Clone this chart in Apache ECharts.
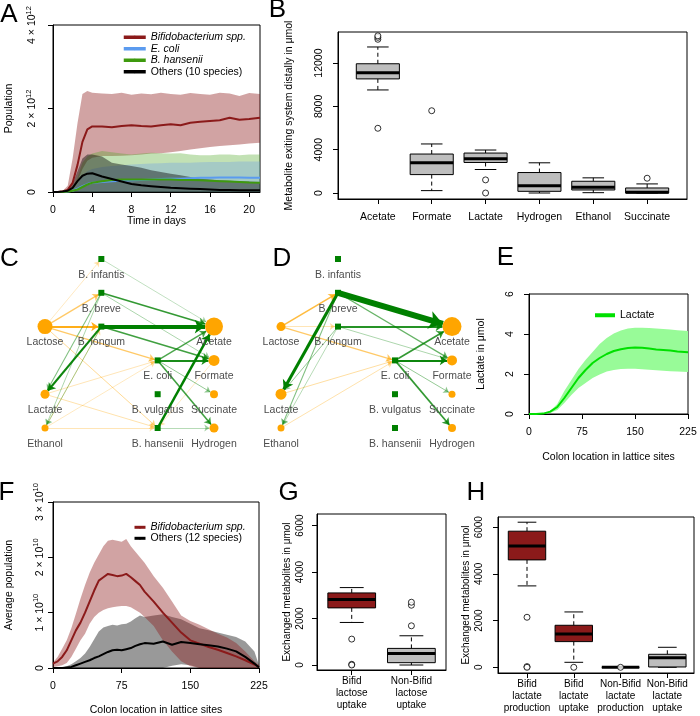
<!DOCTYPE html>
<html><head><meta charset="utf-8">
<script src="https://cdn.jsdelivr.net/npm/echarts@6/dist/echarts.min.js"></script>
<style>html,body{margin:0;padding:0;background:#fff}#c{width:700px;height:716px}</style>
</head><body><div id="c"></div>
<script>
// ================= DATA =================
// Panel A (population in units of 10^12, time in days)
const daysA       = [0, 0.5, 1, 1.5, 2, 2.5, 3, 3.5, 4, 5, 6, 7, 8, 9, 10, 11, 12, 13, 14, 15, 16, 17, 18, 19, 20, 21.1];
const bifidMeanA  = [0, 0, 0.02, 0.05, 0.22, 0.65, 1.2, 1.5, 1.57, 1.57, 1.55, 1.58, 1.6, 1.58, 1.57, 1.6, 1.62, 1.6, 1.66, 1.68, 1.7, 1.72, 1.78, 1.73, 1.75, 1.78];
const bifidHiA    = [0, 0, 0.03, 0.15, 0.8, 1.65, 2.35, 2.42, 2.38, 2.36, 2.35, 2.38, 2.33, 2.36, 2.34, 2.38, 2.35, 2.33, 2.37, 2.35, 2.33, 2.38, 2.36, 2.3, 2.37, 2.35];
const bifidLoA    = [0, 0, 0, 0.02, 0.08, 0.25, 0.55, 0.75, 0.82, 0.86, 0.86, 0.87, 0.88, 0.9, 0.92, 0.93, 0.95, 0.98, 1.02, 1.05, 1.08, 1.1, 1.12, 1.14, 1.16, 1.18];
const ecoliMeanA  = [0, 0, 0, 0.01, 0.03, 0.08, 0.14, 0.19, 0.22, 0.24, 0.26, 0.27, 0.28, 0.29, 0.3, 0.31, 0.32, 0.32, 0.33, 0.34, 0.34, 0.35, 0.35, 0.35, 0.34, 0.34];
const ecoliHiA    = [0, 0, 0, 0.02, 0.06, 0.2, 0.4, 0.5, 0.55, 0.6, 0.62, 0.64, 0.66, 0.67, 0.68, 0.69, 0.7, 0.7, 0.7, 0.71, 0.72, 0.72, 0.72, 0.73, 0.73, 0.73];
const ecoliLoA    = [0, 0, 0, 0, 0, 0, 0, 0, 0, 0, 0, 0, 0, 0, 0, 0, 0, 0, 0, 0, 0, 0, 0, 0, 0, 0];
const hansMeanA   = [0, 0, 0, 0.01, 0.03, 0.06, 0.12, 0.18, 0.22, 0.26, 0.29, 0.3, 0.3, 0.3, 0.3, 0.3, 0.3, 0.29, 0.29, 0.28, 0.27, 0.26, 0.25, 0.24, 0.23, 0.22];
const hansHiA     = [0, 0, 0, 0.02, 0.1, 0.35, 0.7, 0.85, 0.92, 0.98, 0.95, 0.92, 0.9, 0.92, 0.94, 0.93, 0.92, 0.93, 0.9, 0.88, 0.88, 0.9, 0.9, 0.88, 0.9, 0.9];
const hansLoA     = [0, 0, 0, 0, 0, 0, 0, 0, 0, 0, 0, 0, 0, 0, 0, 0, 0, 0, 0, 0, 0, 0, 0, 0, 0, 0];
const othMeanA    = [0, 0, 0.01, 0.03, 0.1, 0.26, 0.39, 0.44, 0.45, 0.37, 0.31, 0.25, 0.19, 0.16, 0.14, 0.12, 0.1, 0.09, 0.08, 0.07, 0.06, 0.05, 0.05, 0.04, 0.04, 0.04];
const othHiA      = [0, 0, 0.01, 0.05, 0.2, 0.5, 0.8, 0.9, 0.9, 0.85, 0.7, 0.66, 0.62, 0.58, 0.52, 0.48, 0.44, 0.4, 0.36, 0.32, 0.3, 0.28, 0.27, 0.26, 0.25, 0.24];
const othLoA      = [0, 0, 0, 0, 0, 0, 0, 0, 0, 0, 0, 0, 0, 0, 0, 0, 0, 0, 0, 0, 0, 0, 0, 0, 0, 0];
const xTicksA = [0, 4, 8, 12, 16, 20];
const yTicksA = [0, 2, 4];
const yLabelsA = ['0', '2 × 10^12', '4 × 10^12'];
const legendA = ['Bifidobacterium spp.', 'E. coli', 'B. hansenii', 'Others (10 species)'];

// Panel B (box statistics: low whisker, Q1, median, Q3, high whisker)
const catsB = ['Acetate', 'Formate', 'Lactate', 'Hydrogen', 'Ethanol', 'Succinate'];
const statsB = [
  [9520, 10540, 11100, 11940, 13490],
  [220, 1700, 2790, 3600, 4530],
  [2170, 2820, 3160, 3690, 3970],
  [0, 155, 680, 1890, 2790],
  [30, 280, 530, 1085, 1400],
  [0, 0, 60, 465, 840]
];
const outCatB = [1, 1, 1, 1, 2, 3, 3, 6];
const outValB = [5980, 14200, 14380, 14520, 7600, 1210, 0, 1365];
const yTicksB = [0, 4000, 8000, 12000];

// Panels C and D (metabolic network)
const netNodes = ['Lactose', 'Lactate', 'Ethanol', 'B. infantis', 'B. breve', 'B. longum', 'E. coli', 'B. vulgatus', 'B. hansenii', 'Acetate', 'Formate', 'Succinate', 'Hydrogen'];
const netCol   = [0, 0, 0, 1, 1, 1, 2, 2, 2, 3, 3, 3, 3];
const netRow   = [2, 4, 5, 0, 1, 2, 3, 4, 5, 2, 3, 4, 5];
const netKind  = ['m', 'm', 'm', 's', 's', 's', 's', 's', 's', 'm', 'm', 'm', 'm'];
const amountC  = [11, 5, 3, 0, 0, 0, 0, 0, 0, 14, 7, 4, 5];
const amountD  = [5, 7, 3, 0, 0, 0, 0, 0, 0, 15, 6, 3, 4];
const fluxC = [
  ['Lactose', 'B. infantis', 0.2], ['Lactose', 'B. breve', 1.2], ['Lactose', 'B. longum', 2.4],
  ['Lactose', 'E. coli', 1.2], ['Lactose', 'B. hansenii', 0.6], ['Lactate', 'E. coli', 0.3],
  ['Lactate', 'B. hansenii', 0.4], ['Ethanol', 'E. coli', 0.2], ['Ethanol', 'B. hansenii', 0.3],
  ['Ethanol', 'B. longum', 0.3], ['Formate', 'B. hansenii', 0.2],
  ['B. infantis', 'Acetate', 0.2], ['B. breve', 'Acetate', 2], ['B. breve', 'Formate', 0.4],
  ['B. breve', 'Lactate', 0.8], ['B. breve', 'Ethanol', 0.4], ['B. longum', 'Acetate', 6],
  ['B. longum', 'Formate', 1.8], ['B. longum', 'Lactate', 2.6], ['B. longum', 'Ethanol', 0.4],
  ['E. coli', 'Acetate', 1.6], ['E. coli', 'Formate', 2.4], ['E. coli', 'Succinate', 0.6],
  ['E. coli', 'Hydrogen', 1.8], ['B. hansenii', 'Acetate', 3.5], ['B. hansenii', 'Hydrogen', 0.3]
];
const fluxD = [
  ['Lactose', 'B. breve', 1.8], ['Lactose', 'B. longum', 0.3], ['Lactose', 'E. coli', 1.2],
  ['Lactate', 'E. coli', 0.5], ['Ethanol', 'E. coli', 0.4],
  ['B. breve', 'Acetate', 10], ['B. breve', 'Lactate', 4.5], ['B. breve', 'Formate', 1.2],
  ['B. breve', 'Ethanol', 0.8], ['B. longum', 'Acetate', 2.2], ['B. longum', 'Formate', 0.4],
  ['B. longum', 'Lactate', 0.6], ['B. longum', 'Ethanol', 0.3],
  ['E. coli', 'Acetate', 2], ['E. coli', 'Formate', 2.6], ['E. coli', 'Succinate', 0.6], ['E. coli', 'Hydrogen', 2]
];

// Panel E (lactate in umol vs colon location)
const xE      = [0, 10, 20, 30, 40, 50, 60, 70, 80, 90, 100, 110, 120, 130, 140, 150, 160, 170, 180, 190, 200, 210, 225];
const lactMean = [0, 0, 0.02, 0.12, 0.35, 0.8, 1.3, 1.8, 2.2, 2.55, 2.8, 3.0, 3.15, 3.24, 3.3, 3.32, 3.31, 3.27, 3.23, 3.2, 3.17, 3.13, 3.09];
const lactHi   = [0, 0, 0.03, 0.15, 0.5, 1.15, 1.7, 2.25, 2.7, 3.1, 3.5, 3.8, 4.02, 4.17, 4.27, 4.31, 4.31, 4.3, 4.28, 4.25, 4.22, 4.19, 4.15];
const lactLo   = [0, 0, 0.01, 0.05, 0.2, 0.55, 0.95, 1.3, 1.55, 1.8, 1.98, 2.12, 2.2, 2.25, 2.26, 2.26, 2.24, 2.21, 2.19, 2.16, 2.14, 2.12, 2.1];
const xTicksE = [0, 75, 150, 225];
const yTicksE = [0, 2, 4, 6];

// Panel F (average population in units of 10^10)
const xF         = [0, 5, 10, 15, 20, 25, 30, 35, 40, 45, 50, 55, 60, 65, 70, 75, 80, 85, 90, 95, 100, 110, 120, 130, 140, 150, 160, 170, 180, 190, 200, 210, 220, 225];
const bifidMeanF = [0.08, 0.12, 0.2, 0.32, 0.5, 0.68, 0.82, 1.0, 1.2, 1.4, 1.58, 1.64, 1.7, 1.68, 1.66, 1.67, 1.7, 1.64, 1.57, 1.5, 1.38, 1.2, 1.0, 0.82, 0.64, 0.5, 0.44, 0.38, 0.33, 0.27, 0.21, 0.14, 0.06, 0.02];
const bifidHiF   = [0.1, 0.2, 0.35, 0.5, 0.72, 0.98, 1.25, 1.5, 1.72, 1.9, 2.05, 2.2, 2.3, 2.32, 2.3, 2.28, 2.33, 2.2, 2.1, 2.0, 1.9, 1.66, 1.45, 1.2, 0.95, 0.85, 0.78, 0.7, 0.62, 0.55, 0.45, 0.3, 0.12, 0.05];
const bifidLoF   = [0.02, 0.03, 0.05, 0.09, 0.2, 0.35, 0.5, 0.62, 0.8, 0.92, 1.0, 1.05, 1.08, 1.1, 1.11, 1.12, 1.12, 1.1, 1.05, 1.0, 0.92, 0.76, 0.5, 0.3, 0.12, 0.03, 0, 0, 0, 0, 0, 0, 0, 0];
const othMeanF   = [0, 0, 0, 0.01, 0.02, 0.05, 0.08, 0.11, 0.14, 0.18, 0.21, 0.25, 0.29, 0.32, 0.33, 0.32, 0.34, 0.36, 0.4, 0.43, 0.45, 0.44, 0.48, 0.42, 0.47, 0.45, 0.43, 0.41, 0.39, 0.35, 0.3, 0.2, 0.08, 0.01];
const othHiF     = [0, 0, 0.01, 0.03, 0.07, 0.12, 0.18, 0.26, 0.38, 0.52, 0.66, 0.73, 0.76, 0.78, 0.77, 0.79, 0.8, 0.84, 0.9, 0.95, 0.92, 0.95, 0.97, 0.92, 0.88, 0.8, 0.72, 0.68, 0.64, 0.6, 0.56, 0.48, 0.3, 0.05];
const othLoF     = [0, 0, 0, 0, 0, 0, 0, 0, 0, 0, 0, 0, 0, 0, 0, 0, 0, 0, 0, 0, 0, 0, 0, 0.04, 0.07, 0.05, 0, 0, 0, 0, 0, 0, 0, 0];
const xTicksF = [0, 75, 150, 225];
const yTicksF = [0, 1, 2, 3];
const yLabelsF = ['0', '1 × 10^10', '2 × 10^10', '3 × 10^10'];
const legendF = ['Bifidobacterium spp.', 'Others (12 species)'];

// Panel G
const catsG = ['Bifid\nlactose\nuptake', 'Non-Bifid\nlactose\nuptake'];
const statsG = [[1830, 2457, 2814, 3100, 3330], [0, 100, 500, 714, 1257]];
const outCatG = [1, 1, 1, 2, 2, 2];
const outValG = [1114, 30, 0, 1686, 2571, 2700];
// Panel H
const catsH = ['Bifid\nlactate\nproduction', 'Bifid\nlactate\nuptake', 'Non-Bifid\nlactate\nproduction', 'Non-Bifid\nlactate\nuptake'];
const statsH = [[3486, 4600, 5200, 5829, 6214], [214, 1100, 1429, 1800, 2371], [0, 0, 0, 0, 0], [0, 14, 414, 557, 857]];
const groupH = ['bifid', 'bifid', 'other', 'other'];
const outCatH = [1, 1, 1, 2, 3];
const outValH = [2143, 30, 0, 0, 0];
const yTicksGH = [0, 2000, 4000, 6000];

// ================= STYLE / HELPERS =================
const FONT = "'Liberation Sans', Arial, Helvetica, sans-serif";
const RED = '#8B1A1A', GREY = '#BEBEBE', ORANGE = '#FFA500', NETGREEN = '#008000';

function sci(s) {
  const k = s.indexOf('^');
  if (k < 0) return '{m|' + s + '}';
  return '{m|' + s.slice(0, k) + '}{s|' + s.slice(k + 1) + '}';
}
const richSci = {
  m: { fontSize: 10.5, fontFamily: FONT, color: '#000', lineHeight: 16 },
  s: { fontSize: 7.5, fontFamily: FONT, color: '#000', lineHeight: 9, verticalAlign: 'top' }
};

function grid(l, t, w, h, show) {
  return { left: l, top: t, width: w, height: h, show: show !== false, borderColor: '#000', borderWidth: 1,
    backgroundColor: 'transparent', containLabel: false, outerBoundsMode: 'none' };
}
function axisBase(gi, min, max, ticks, fmt, o) {
  return {
    type: 'value', gridIndex: gi, min: min, max: max,
    splitLine: { show: false },
    axisLine: { show: true, onZero: false, lineStyle: { color: '#000', width: 1 } },
    axisTick: { show: true, inside: false, length: 5, customValues: ticks, lineStyle: { color: '#000', width: 1 } },
    axisLabel: { show: true, customValues: ticks, formatter: fmt, margin: o.margin, fontSize: o.fs || 10.5,
      fontFamily: FONT, color: '#000', lineHeight: o.lh, rich: o.rich, rotate: o.rotate || 0 },
    name: o.name || '', nameLocation: 'middle', nameGap: o.nameGap || 20, nameRotate: o.nameRotate,
    nameTextStyle: { fontSize: o.nfs || 10.5, fontFamily: FONT, color: '#000' },
    nameMoveOverlap: false
  };
}
function hiddenAxis(gi, min, max, inverse) {
  return { type: 'value', gridIndex: gi, min: min, max: max, inverse: !!inverse, show: false,
    splitLine: { show: false }, axisLine: { show: false }, axisTick: { show: false }, axisLabel: { show: false } };
}
function pick(ticks, labels) { return v => { const i = ticks.indexOf(v); return i < 0 ? '' : labels[i]; }; }

function band(gi, xs, lo, hi, color) {
  return {
    type: 'custom', xAxisIndex: gi, yAxisIndex: gi, silent: true, clip: true, z: 1,
    data: [[xs[0], lo[0]]],
    renderItem: function (params, api) {
      const pts = [];
      for (let i = 0; i < xs.length; i++) pts.push(api.coord([xs[i], hi[i]]));
      for (let i = xs.length - 1; i >= 0; i--) pts.push(api.coord([xs[i], lo[i]]));
      return { type: 'polygon', shape: { points: pts }, style: { fill: color } };
    }
  };
}
function line(gi, name, xs, ys, color, w) {
  return { type: 'line', name: name, xAxisIndex: gi, yAxisIndex: gi, data: xs.map((x, i) => [x, ys[i]]),
    symbol: 'none', showSymbol: false, lineStyle: { color: color, width: w || 2 }, itemStyle: { color: color },
    z: 2, silent: true, clip: true };
}
function boxes(gi, stats, fills) {
  return {
    type: 'custom', xAxisIndex: gi, yAxisIndex: gi, silent: true, z: 3,
    data: stats.map((s, i) => [i + 1].concat(s)),
    encode: { x: 0, y: [1, 2, 3, 4, 5] },
    renderItem: function (params, api) {
      const x = api.value(0);
      const lo = api.coord([x, api.value(1)]), q1 = api.coord([x, api.value(2)]), md = api.coord([x, api.value(3)]),
            q3 = api.coord([x, api.value(4)]), hi = api.coord([x, api.value(5)]);
      const bw = api.size([0.8, 0])[0];
      const cx = md[0];
      const dash = { stroke: '#000', lineWidth: 1, lineDash: [4, 3] };
      const solid = { stroke: '#000', lineWidth: 1 };
      return { type: 'group', children: [
        { type: 'line', shape: { x1: cx, y1: q3[1], x2: cx, y2: hi[1] }, style: dash },
        { type: 'line', shape: { x1: cx, y1: q1[1], x2: cx, y2: lo[1] }, style: dash },
        { type: 'line', shape: { x1: cx - bw / 4, y1: hi[1], x2: cx + bw / 4, y2: hi[1] }, style: solid },
        { type: 'line', shape: { x1: cx - bw / 4, y1: lo[1], x2: cx + bw / 4, y2: lo[1] }, style: solid },
        { type: 'rect', shape: { x: cx - bw / 2, y: q3[1], width: bw, height: q1[1] - q3[1] },
          style: { fill: fills[params.dataIndex], stroke: '#000', lineWidth: 1 } },
        { type: 'line', shape: { x1: cx - bw / 2, y1: md[1], x2: cx + bw / 2, y2: md[1] }, style: { stroke: '#000', lineWidth: 3 } }
      ] };
    }
  };
}
function outliers(gi, cats, vals) {
  return { type: 'scatter', xAxisIndex: gi, yAxisIndex: gi, silent: true, z: 4, symbol: 'circle', symbolSize: 6,
    itemStyle: { color: '#fff', borderColor: '#000', borderWidth: 1 }, data: cats.map((c, i) => [c, vals[i]]) };
}
function network(gi, amounts, flux) {
  const nodes = netNodes.map((n, i) => ({
    name: n, value: [netCol[i], netRow[i]],
    symbol: netKind[i] === 's' ? 'rect' : 'circle',
    symbolSize: netKind[i] === 's' ? 6 : 4 + amounts[i],
    itemStyle: { color: netKind[i] === 's' ? NETGREEN : ORANGE }
  }));
  const links = flux.map(e => {
    const f = e[2];
    const w = 0.6 + 0.55 * f;
    const fromSpecies = netKind[netNodes.indexOf(e[0])] === 's';
    return { source: e[0], target: e[1], symbol: ['none', 'arrow'], symbolSize: [0, 4 + 1.6 * w],
      lineStyle: { width: w, color: fromSpecies ? NETGREEN : ORANGE, opacity: Math.min(1, 0.3 + 0.25 * f), curveness: 0 } };
  });
  return { type: 'graph', coordinateSystem: 'cartesian2d', xAxisIndex: gi, yAxisIndex: gi, layout: 'none',
    data: nodes, links: links, edgeSymbol: ['none', 'arrow'], edgeSymbolSize: 6, silent: true, roam: false, z: 3,
    label: { show: true, position: 'inside', offset: [0, 16], fontSize: 10.5, fontFamily: FONT, color: '#4D4D4D' },
    emphasis: { disabled: true } };
}
const italicA = ['Bifidobacterium spp.', 'E. coli', 'B. hansenii'];
function legendFmt(n) { return italicA.indexOf(n) >= 0 ? '{i|' + n + '}' : '{n|' + n + '}'; }
const legendRich = { i: { fontStyle: 'italic', fontSize: 10.5, fontFamily: FONT, color: '#000' },
                     n: { fontSize: 10.5, fontFamily: FONT, color: '#000' } };
function legend(names, left, top, itemW, lh, lw) {
  return { data: names, left: left, top: top, orient: 'vertical', align: 'left', padding: 0, itemGap: 0,
    itemWidth: itemW, itemHeight: lw, selectedMode: false, formatter: legendFmt,
    lineStyle: { width: lw }, textStyle: { fontSize: 10.5, fontFamily: FONT, lineHeight: lh, rich: legendRich } };
}
function letter(t, x, y) {
  return { type: 'text', x: x, y: y, style: { text: t, font: '26px ' + FONT, fill: '#000', align: 'center', verticalAlign: 'middle' } };
}

// ================= OPTION =================
const option = {
  animation: false,
  backgroundColor: '#fff',
  textStyle: { fontFamily: FONT },
  grid: [
    grid(53, 25, 207, 167),          // 0 A
    grid(338, 32, 349, 167),         // 1 B
    grid(45, 259, 169, 169, false),  // 2 C
    grid(281, 259, 171, 169, false), // 3 D
    grid(529, 294, 159, 120),        // 4 E
    grid(53, 502, 206, 166),         // 5 F
    grid(317, 514, 129, 156),        // 6 G
    grid(498, 517, 196, 156)         // 7 H
  ],
  xAxis: [
    axisBase(0, 0, 21.1, xTicksA, v => String(v), { margin: 13, name: 'Time in days', nameGap: 24 }),
    axisBase(1, 0.26, 6.74, [1, 2, 3, 4, 5, 6], v => catsB[v - 1] || '', { margin: 13 }),
    hiddenAxis(2, 0, 3),
    hiddenAxis(3, 0, 3),
    axisBase(4, 0, 225, xTicksE, v => String(v), { margin: 13, name: 'Colon location in lattice sites', nameGap: 38 }),
    axisBase(5, 0, 225, xTicksF, v => String(v), { margin: 13, name: 'Colon location in lattice sites', nameGap: 37 }),
    axisBase(6, 0.418, 2.58, [1, 2], v => catsG[v - 1] || '', { margin: 5.5, fs: 10, lh: 12 }),
    axisBase(7, 0.38, 4.57, [1, 2, 3, 4], v => catsH[v - 1] || '', { margin: 5.5, fs: 10, lh: 12 })
  ],
  yAxis: [
    axisBase(0, 0, 4, yTicksA, v => sci(pick(yTicksA, yLabelsA)(v)), { margin: 12.5, rotate: 90, rich: richSci,
      name: 'Population', nameGap: 38, nameRotate: 90 }),
    axisBase(1, -554, 14873, yTicksB, v => String(v), { margin: 13.5, rotate: 90,
      name: 'Metabolite exiting system distally in μmol', nameGap: 43, nameRotate: 90 }),
    hiddenAxis(2, 0, 5, true),
    hiddenAxis(3, 0, 5, true),
    axisBase(4, 0, 6, yTicksE, v => String(v), { margin: 13.5, rotate: 90, name: 'Lactate in μmol', nameGap: 42, nameRotate: 90 }),
    axisBase(5, 0, 3, yTicksF, v => sci(pick(yTicksF, yLabelsF)(v)), { margin: 5, rotate: 90, rich: richSci,
      name: 'Average population', nameGap: 38, nameRotate: 90 }),
    axisBase(6, -215, 6495, yTicksGH, v => String(v), { margin: 12, rotate: 90, fs: 10,
      name: 'Exchanged metabolites in μmol', nameGap: 25, nameRotate: 90, nfs: 10 }),
    axisBase(7, -244, 6437, yTicksGH, v => String(v), { margin: 14, rotate: 90, fs: 10,
      name: 'Exchanged metabolites in μmol', nameGap: 26.5, nameRotate: 90, nfs: 10 })
  ],
  legend: [
    legend(legendA, 122, 31.5, 22, 11.5, 3.5),
    legend(['Lactate'], 593, 309.5, 20, 11.5, 4),
    legend(legendF, 133, 521.8, 11, 11, 3)
  ],
  graphic: [
    letter('A', 9, 14.5), letter('B', 277.5, 10), letter('C', 9.5, 258.5), letter('D', 282, 259),
    letter('E', 505.5, 257.5), letter('F', 6.5, 492.5), letter('G', 288.5, 492.5), letter('H', 476, 492.5)
  ],
  series: [
    // A
    band(0, daysA, bifidLoA, bifidHiA, 'rgba(139,26,26,0.4)'),
    band(0, daysA, hansLoA, hansHiA, 'rgba(80,170,40,0.35)'),
    band(0, daysA, ecoliLoA, ecoliHiA, 'rgba(100,150,240,0.3)'),
    band(0, daysA, othLoA, othHiA, 'rgba(0,0,0,0.42)'),
    line(0, 'Bifidobacterium spp.', daysA, bifidMeanA, RED, 2),
    line(0, 'E. coli', daysA, ecoliMeanA, '#5B9BEF', 2),
    line(0, 'B. hansenii', daysA, hansMeanA, '#3E9A0E', 2),
    line(0, 'Others (10 species)', daysA, othMeanA, '#000', 2),
    // B
    boxes(1, statsB, statsB.map(() => GREY)),
    outliers(1, outCatB, outValB),
    // C, D
    network(2, amountC, fluxC),
    network(3, amountD, fluxD),
    // E
    band(4, xE, lactLo, lactHi, '#98FB98'),
    line(4, 'Lactate', xE, lactMean, '#00E000', 2),
    // F
    band(5, xF, othLoF, othHiF, 'rgba(0,0,0,0.4)'),
    band(5, xF, bifidLoF, bifidHiF, 'rgba(139,26,26,0.4)'),
    line(5, 'Bifidobacterium spp.', xF, bifidMeanF, RED, 2),
    line(5, 'Others (12 species)', xF, othMeanF, '#000', 2),
    // G
    boxes(6, statsG, [RED, GREY]),
    outliers(6, outCatG, outValG),
    // H
    boxes(7, statsH, groupH.map(g => g === 'bifid' ? RED : GREY)),
    outliers(7, outCatH, outValH)
  ]
};

const chart = echarts.init(document.getElementById('c'), null, { renderer: 'canvas', width: 700, height: 716 });
chart.setOption(option);
</script>
</body></html>
